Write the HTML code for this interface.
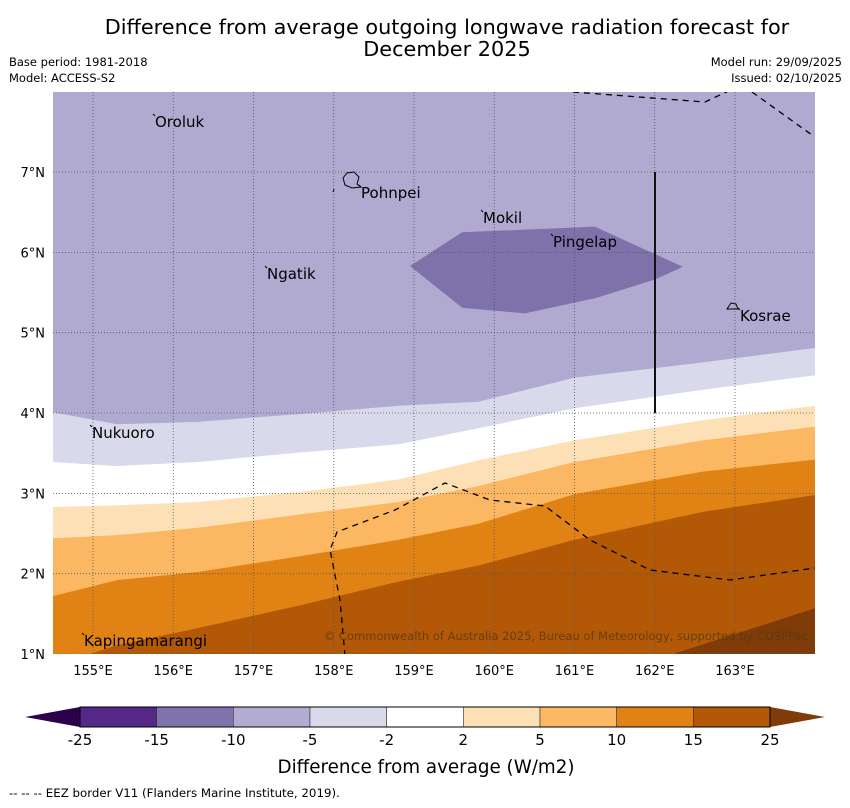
<!DOCTYPE html>
<html><head><meta charset="utf-8"><style>
body{margin:0;background:#fff;width:850px;height:804px;overflow:hidden;font-family:"DejaVu Sans","Liberation Sans",sans-serif}
svg text{font-family:"DejaVu Sans","Liberation Sans",sans-serif}
</style></head><body>
<svg id="chart" width="850" height="804" viewBox="0 0 850 804" xmlns="http://www.w3.org/2000/svg">
<text x="447" y="34" font-size="20.8" text-anchor="middle">Difference from average outgoing longwave radiation forecast for</text>
<text x="447" y="56" font-size="20.8" text-anchor="middle">December 2025</text>
<text x="9" y="66" font-size="11.5">Base period: 1981-2018</text>
<text x="9" y="82" font-size="11.5">Model: ACCESS-S2</text>
<text x="842" y="66" font-size="11.5" text-anchor="end">Model run: 29/09/2025</text>
<text x="842" y="82" font-size="11.5" text-anchor="end">Issued: 02/10/2025</text>
<defs><clipPath id="mapclip"><rect x="53" y="92" width="762" height="562"/></clipPath></defs>
<g id="map" clip-path="url(#mapclip)">
<rect x="53" y="92" width="762" height="562" fill="#b0a9d0"/>
<g id="bands"></g>
<g id="grid"></g>
<g id="lines"></g>
</g>
<g id="axes"></g>
<g id="places"></g>
<text x="808" y="640" font-size="11.5" text-anchor="end" fill="#5a3a10" opacity="0.85">© Commonwealth of Australia 2025, Bureau of Meteorology, supported by COSPPac</text>
<g id="colorbar"></g>
<text x="426" y="773" font-size="18.3" text-anchor="middle">Difference from average (W/m2)</text>
<text x="9" y="797" font-size="11.8">--  --  -- EEZ border V11 (Flanders Marine Institute, 2019).</text>
</svg>
<script>
const lons = [154.5,155.3,156.3,157.6,158.8,159.8,161.0,162.6,164.0];
const bound1 = [4.01,3.86,3.89,3.99,4.09,4.14,4.44,4.63,4.81];
const bound2 = [3.39,3.34,3.39,3.51,3.61,3.81,4.06,4.29,4.47];
const bound3 = [2.83,2.85,2.89,3.02,3.17,3.41,3.66,3.91,4.09];
const bound4 = [2.44,2.48,2.57,2.74,2.89,3.09,3.39,3.66,3.83];
const bound5 = [1.72,1.92,2.02,2.22,2.42,2.62,2.99,3.27,3.42];
const bound6 = [0.85,1.11,1.32,1.61,1.90,2.10,2.42,2.77,2.98];
const bound7 = [0.5,0.5,0.5,0.5,0.5,0.5,0.6,1.12,1.57];
const boundColors = ["#d8d9ea","#ffffff","#fde0b6","#fbb762","#e08214","#b35806","#7f3b08"];
const blobLons = [158.95,159.6,161.25,162.35,162.0,161.26,160.38,159.6];
const blobLats = [5.83,6.25,6.32,5.82,5.66,5.43,5.24,5.31];
const lonTicks = [155,156,157,158,159,160,161,162,163];
const latTicks = [1,2,3,4,5,6,7];
const cbLevels = ["-25","-15","-10","-5","-2","2","5","10","15","25"];
const cbColors = ["#542788","#8073ac","#b2abd2","#d8daeb","#ffffff","#fee0b6","#fdb863","#e08214","#b35806"];
const placeNames = ["Oroluk","Pohnpei","Mokil","Pingelap","Ngatik","Kosrae","Nukuoro","Kapingamarangi"];
const NS="http://www.w3.org/2000/svg";
const labelPos=[[155,127],[361,198],[483,223],[553,247],[267,279],[740,321],[92,438],[84,646]];
const X=lon=>93+(lon-155)*80.25, Y=lat=>654-(lat-1)*80.33;
function mk(tag,attrs,parent){const e=document.createElementNS(NS,tag);for(const k in attrs)e.setAttribute(k,attrs[k]);parent.appendChild(e);return e;}
const bands=document.getElementById('bands');
[bound1,bound2,bound3,bound4,bound5,bound6,bound7].forEach((b,i)=>{
 let pts=lons.map((l,j)=>X(l)+","+Y(b[j])).join(" ")+" "+X(164)+",700 "+X(154.5)+",700";
 const p=mk('polygon',{points:pts,fill:boundColors[i]},bands);
 
 
 if(i==0){
  const bl=mk('polygon',{points:blobLons.map((l,j)=>X(l)+","+Y(blobLats[j])).join(" "),fill:"#7f71aa"},bands);
  
  
 }
});
const grid=document.getElementById('grid'),axes=document.getElementById('axes');
lonTicks.forEach(l=>{
 const g=mk('line',{x1:X(l),x2:X(l),y1:92,y2:654,stroke:"#555",'stroke-width':0.8,'stroke-dasharray':"1,2"},grid);
 
 
 const t=mk('text',{x:X(l),y:675,'font-size':13,'text-anchor':'middle'},axes);t.textContent=l+"°E";
 
 
});
latTicks.forEach(l=>{
 const g=mk('line',{x1:53,x2:815,y1:Y(l),y2:Y(l),stroke:"#555",'stroke-width':0.8,'stroke-dasharray':"1,2"},grid);
 
 
 const t=mk('text',{x:45,y:Y(l)+5,'font-size':13,'text-anchor':'end'},axes);t.textContent=l+"°N";
 
 
});
const lines=document.getElementById('lines');
[["573,92 705,102 735,88","eez-border-north"],["752,92 812,135","eez-border-northeast"],["345,656 340,600 330,550 337,532 395,510 445,483 490,500 545,506 590,540 650,570 730,580 815,568","eez-border-south"]].forEach(d=>{
 const p=mk('polyline',{points:d[0],fill:"none",stroke:"#000",'stroke-width':1.3,'stroke-dasharray':"6,5"},lines);
 
 
});
const v=mk('line',{x1:655,x2:655,y1:172,y2:413,stroke:"#111",'stroke-width':2},lines);


const pl=document.getElementById('places');
placeNames.forEach((n,i)=>{
 const p=labelPos[i];
 const t=mk('text',{x:p[0],y:p[1],'font-size':15},pl);t.textContent=n;
 
 
 const m=mk('line',{x1:p[0]-2,y1:p[1]-13,x2:p[0],y2:p[1]-11,stroke:"#000",'stroke-width':1},pl);
 
 
});
const isl=mk('path',{d:"M343,178 L347,173 L354,172 L359,177 L357,184 L361,187 L352,188 L345,185 Z M334,189 L333,192",fill:"none",stroke:"#000",'stroke-width':1},pl);


const isl2=mk('path',{d:"M727,309 L731,303 L736,304 L738,309 Z",fill:"none",stroke:"#000",'stroke-width':1},pl);


const cb=document.getElementById('colorbar');
const cx0=80,cw=(770-80)/cbColors.length;
const lt=mk('polygon',{points:"25,717 80,707 80,727",fill:"#2d004b"},cb);


const rt=mk('polygon',{points:"825,717 770,707 770,727",fill:"#7f3b08"},cb);


cbColors.forEach((c,i)=>{
 const r=mk('rect',{x:cx0+i*cw,y:707,width:cw,height:20,fill:c,stroke:"#333",'stroke-width':0.6},cb);
 
 
});
mk('rect',{x:80,y:707,width:690,height:20,fill:"none",stroke:"#000",'stroke-width':1},cb);
cbLevels.forEach((s,i)=>{
 const t=mk('text',{x:cx0+i*cw,y:745,'font-size':15,'text-anchor':'middle'},cb);t.textContent=s;
 
 
});
</script>
</body></html>
